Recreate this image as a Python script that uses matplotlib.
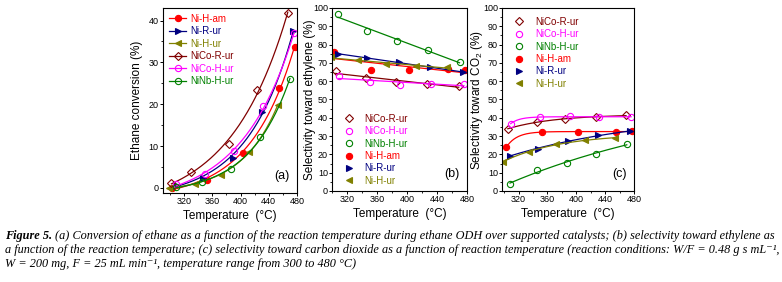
import numpy as np
import matplotlib
matplotlib.use('Agg')
import matplotlib.pyplot as plt
from matplotlib.ticker import MultipleLocator

plt.rcParams['font.family'] = ['Liberation Sans', 'DejaVu Sans']
plt.rcParams['mathtext.fontset'] = 'custom'
plt.rcParams['mathtext.rm'] = 'Liberation Sans'

# campioni (ordine della legenda nei pannelli b e c)
samples = ['NiCo-R-ur', 'NiCo-H-ur', 'NiNb-H-ur', 'Ni-H-am', 'Ni-R-ur', 'Ni-H-ur']
colors = ['#800000', '#ff00ff', '#008000', '#ff0000', '#000080', '#808000']
markers = ['D', 'o', 'o', 'o', '>', '<']
filled = [False, False, False, True, True, True]

# temperature di reazione (°C)
t_nico_r = [305, 345, 385, 427, 469]
t_nico_r_a = [302, 330, 383, 423, 467]
t_nico_h = [309, 350, 391, 432, 476]
t_ninb_h = [308, 346, 387, 428, 470]
t_ni_h_am = [303, 352, 403, 455, 477]
t_ni_r = [308, 347, 389, 430, 475]
t_ni_h_ur = [298, 335, 372, 412, 453]

# (a) conversione dell'etano (%)
conv_nico_r = [1.2, 3.8, 10.4, 23.3, 41.8]
conv_nico_h = [1.0, 3.3, 8.8, 19.5, 37.0]
conv_ninb_h = [0.3, 1.4, 4.5, 12.1, 26.1]
conv_ni_h_am = [0.1, 1.8, 8.4, 24.0, 33.7]
conv_ni_r = [0.8, 2.5, 7.2, 18.2, 37.5]
conv_ni_h_ur = [0.1, 0.9, 3.2, 8.6, 19.9]

# (b) selettività verso etilene (%)
sel_nico_r = [65.5, 61.5, 59.5, 58.5, 57.5]
sel_nico_h = [63.0, 59.5, 58.0, 58.5, 58.5]
sel_ninb_h = [96.5, 87.5, 82.0, 77.0, 70.5]
sel_ni_h_am = [76.0, 66.0, 66.0, 66.5, 66.0]
sel_ni_r = [75.0, 72.5, 70.5, 67.5, 65.0]
sel_ni_h_ur = [73.0, 71.5, 69.5, 68.5, 67.5]

# (c) selettività verso CO2 (%)
co2_nico_r = [34.0, 37.6, 39.5, 40.4, 41.3]
co2_nico_h = [36.8, 40.4, 40.9, 40.4, 40.4]
co2_ninb_h = [3.8, 11.6, 15.5, 20.0, 25.8]
co2_ni_h_am = [24.0, 32.2, 32.2, 32.2, 33.0]
co2_ni_r = [19.3, 23.1, 27.3, 30.4, 32.7]
co2_ni_h_ur = [16.0, 21.5, 25.5, 27.6, 29.1]

temps_a = [t_nico_r_a, t_nico_h, t_ninb_h, t_ni_h_am, t_ni_r, t_ni_h_ur]
temps = [t_nico_r, t_nico_h, t_ninb_h, t_ni_h_am, t_ni_r, t_ni_h_ur]
conv = [conv_nico_r, conv_nico_h, conv_ninb_h, conv_ni_h_am, conv_ni_r, conv_ni_h_ur]
sel = [sel_nico_r, sel_nico_h, sel_ninb_h, sel_ni_h_am, sel_ni_r, sel_ni_h_ur]
co2 = [co2_nico_r, co2_nico_h, co2_ninb_h, co2_ni_h_am, co2_ni_r, co2_ni_h_ur]


def fit_exp(t, y, c_values):
    """fit y = a + b*exp(c*(t-300)) con ricerca su c e minimi quadrati su a, b"""
    t = np.asarray(t, float)
    y = np.asarray(y, float)
    best = None
    for c in c_values:
        A = np.column_stack([np.ones_like(t), np.exp(c * (t - 300))])
        coef = np.linalg.lstsq(A, y, rcond=None)[0]
        err = np.sum((A @ coef - y) ** 2)
        if best is None or err < best[0]:
            best = (err, c, coef)
    _, c, coef = best
    return lambda x: coef[0] + coef[1] * np.exp(c * (np.asarray(x) - 300))


def style_axis(ax, ylim, ymaj, xlim, label_x):
    ax.set_xlim(*xlim)
    ax.set_ylim(*ylim)
    ax.set_xticks([320, 360, 400, 440, 480])
    ax.xaxis.set_minor_locator(MultipleLocator(20))
    ax.yaxis.set_major_locator(MultipleLocator(ymaj))
    ax.yaxis.set_minor_locator(MultipleLocator(ymaj / 2))
    ax.tick_params(which='major', direction='out', length=2, width=0.7, labelsize=6.5, pad=1)
    ax.tick_params(which='minor', direction='out', length=1.2, width=0.6)
    for s in ax.spines.values():
        s.set_linewidth(0.8)
    ax.set_xlabel('Temperature  (°C)', fontsize=8.5, labelpad=3)
    ax.yaxis.set_label_coords(label_x, 0.5)


def marker_kw(i):
    return dict(marker=markers[i], color=colors[i], markersize=4.5 if markers[i] != 'D' else 3.8,
                markerfacecolor=colors[i] if filled[i] else 'none',
                markeredgecolor=colors[i], markeredgewidth=0.8)


fig = plt.figure(figsize=(7.82, 2.82), dpi=100)
ax_a = fig.add_axes([0.2084, 0.3156, 0.1714, 0.656])
ax_b = fig.add_axes([0.4246, 0.3227, 0.1726, 0.649])
ax_c = fig.add_axes([0.6420, 0.3227, 0.1687, 0.649])

# (a) conversione
order_a = [3, 4, 5, 0, 1, 2]
for i in order_a:
    f = fit_exp(temps_a[i], conv[i], np.linspace(0.004, 0.06, 300))
    tt = np.linspace(min(temps_a[i]), max(temps_a[i]), 200)
    ax_a.plot(tt, f(tt), color=colors[i], lw=0.9)
    ax_a.plot(temps_a[i], conv[i], ls='none', **marker_kw(i))
handles = [plt.Line2D([], [], lw=0.9, **marker_kw(i)) for i in order_a]
leg = ax_a.legend(handles, [samples[i] for i in order_a], loc='upper left', fontsize=7,
                  frameon=False, handlelength=1.8, handletextpad=0.4, labelspacing=0.25,
                  borderaxespad=0.2, bbox_to_anchor=(0.0, 1.0))
for txt, i in zip(leg.get_texts(), order_a):
    txt.set_color(colors[i])
style_axis(ax_a, (-1.2, 43), 10, (290, 480), -0.15)
ax_a.set_ylabel('Ethane conversion (%)', fontsize=8.5)
ax_a.text(0.89, 0.06, '(a)', transform=ax_a.transAxes, fontsize=9, ha='center', va='bottom')

# (b) selettività etilene
for i in range(6):
    p = np.polyfit(temps[i], sel[i], 1)
    tt = np.array([min(temps[i]), max(temps[i])])
    ax_b.plot(tt, np.polyval(p, tt), color=colors[i], lw=0.9)
    ax_b.plot(temps[i], sel[i], ls='none', **marker_kw(i))
handles = [plt.Line2D([], [], ls='none', **marker_kw(i)) for i in range(6)]
leg = ax_b.legend(handles, samples, loc='upper left', fontsize=7, frameon=False,
                  handletextpad=0.6, labelspacing=0.25, bbox_to_anchor=(-0.01, 0.47))
for txt, c in zip(leg.get_texts(), colors):
    txt.set_color(c)
style_axis(ax_b, (0, 100), 10, (300, 480), -0.12)
ax_b.set_ylabel('Selectivity toward ethylene (%)', fontsize=8.5)
ax_b.text(0.89, 0.06, '(b)', transform=ax_b.transAxes, fontsize=9, ha='center', va='bottom')

# (c) selettività CO2
for i in range(6):
    f = fit_exp(temps[i], co2[i], np.linspace(-0.08, -0.001, 300))
    tt = np.linspace(min(temps[i]), max(temps[i]), 200)
    ax_c.plot(tt, f(tt), color=colors[i], lw=0.9)
    ax_c.plot(temps[i], co2[i], ls='none', **marker_kw(i))
leg = ax_c.legend(handles, samples, loc='upper left', fontsize=7, frameon=False,
                  handletextpad=0.6, labelspacing=0.25, bbox_to_anchor=(-0.01, 1.0))
for txt, c in zip(leg.get_texts(), colors):
    txt.set_color(c)
style_axis(ax_c, (0, 100), 10, (297, 480), -0.13)
ax_c.set_ylabel('Selectivity toward CO$_2$ (%)', fontsize=8.5)
ax_c.text(0.89, 0.06, '(c)', transform=ax_c.transAxes, fontsize=9, ha='center', va='bottom')

# didascalia
serif = ['Liberation Serif', 'DejaVu Serif']
cap_size = 8.85
lines = [
    '(a) Conversion of ethane as a function of the reaction temperature during ethane ODH over supported catalysts; (b) selectivity toward ethylene as',
    'a function of the reaction temperature; (c) selectivity toward carbon dioxide as a function of reaction temperature (reaction conditions: W/F = 0.48 g s mL\u207b\u00b9,',
    'W = 200 mg, F = 25 mL min\u207b\u00b9, temperature range from 300 to 480 °C)',
]
x0 = 5 / 782
ys = [1 - 236 / 282, 1 - 250 / 282, 1 - 264 / 282]
t0 = fig.text(x0, ys[0], 'Figure 5.', fontsize=cap_size, family=serif, style='italic',
              weight='bold', va='center')
fig.canvas.draw()
r = fig.canvas.get_renderer()
bb = t0.get_window_extent(renderer=r)
x1 = (bb.x1 + 3) / fig.bbox.width
fig.text(x1, ys[0], lines[0], fontsize=cap_size, family=serif, style='italic', va='center')
fig.text(x0, ys[1], lines[1], fontsize=cap_size, family=serif, style='italic', va='center')
fig.text(x0, ys[2], lines[2], fontsize=cap_size, family=serif, style='italic', va='center')

fig.savefig('out.png', dpi=100)
